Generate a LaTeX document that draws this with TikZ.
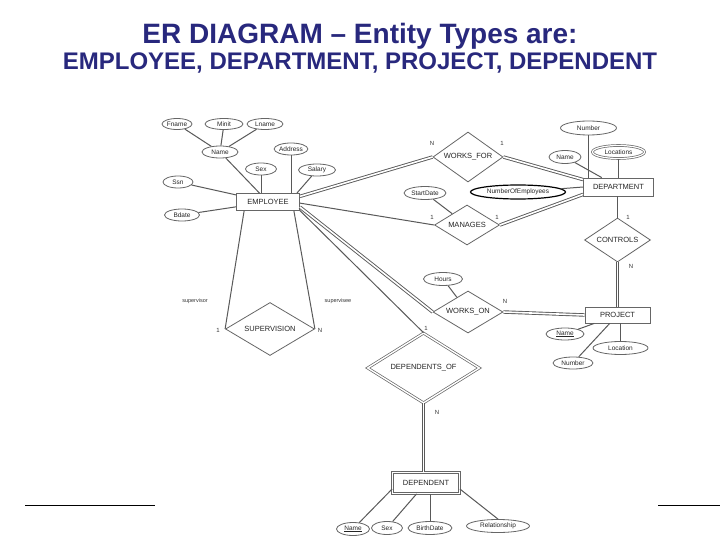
\documentclass[tikz,border=0pt]{standalone}
\usepackage{fontspec}
\setmainfont{Liberation Sans}
\usetikzlibrary{shapes.geometric}
\definecolor{titleblue}{RGB}{40,40,125}

\begin{document}
\begin{tikzpicture}[
        % 全局設定:1 單位 = 1pt,y 軸向下
        x=1pt, y=-1pt,
        % 實體:矩形
        entity/.style={
            rectangle,
            draw=black!60,
            line width=0.8pt,
            fill=white,
            inner sep=1pt,
            text=black!85,
            font=\fontsize{7.5}{8}\selectfont
        },
        % 弱實體:雙框
        weakentity/.style={entity, line width=0.7pt, double, double distance=1.4pt},
        % 關係:菱形
        relation/.style={
            diamond,
            aspect=1.7,
            draw=black!60,
            line width=0.8pt,
            fill=white,
            inner sep=0pt,
            text=black!85,
            font=\fontsize{7.5}{8}\selectfont
        },
        % 識別關係:雙菱形
        identrel/.style={relation, line width=0.7pt, double, double distance=1.4pt},
        % 屬性:橢圓
        attr/.style={
            ellipse,
            draw=black!60,
            line width=0.8pt,
            fill=white,
            inner sep=0pt,
            minimum height=12pt,
            text=black!85,
            font=\fontsize{6.5}{7}\selectfont
        },
        multiattr/.style={attr, line width=0.7pt, double, double distance=1.2pt}, % 多值屬性
        derivedattr/.style={attr, draw=black, line width=1.2pt},                 % 衍生屬性
        % 連線樣式
        link/.style={draw=black!65, line width=1pt},
        totallink/.style={link, line width=0.9pt, double, double distance=1.6pt},
        % 文字標籤樣式
        card_text/.style={font=\fontsize{6}{7}\selectfont, text=black!80},
        role_text/.style={font=\fontsize{5.5}{6}\selectfont, text=black!80},
        title_text/.style={anchor=base, text=titleblue}
    ]

    \useasboundingbox (0,0) rectangle (720,540);
    \fill[white] (0,0) rectangle (720,540);

    % --- 標題 ---
    \node[title_text, font=\fontsize{28}{30}\selectfont\bfseries] (title1) at (360,44) {ER DIAGRAM -- Entity Types are:};
    \node[title_text, font=\fontsize{24}{26}\selectfont\bfseries] (title2) at (360,70) {EMPLOYEE, DEPARTMENT, PROJECT, DEPENDENT};

    % --- EMPLOYEE 與其屬性 ---
    \node[entity, minimum width=63pt, minimum height=17pt] (emp) at (268,202) {EMPLOYEE};
    \node[attr, minimum width=30pt, minimum height=11pt] (fname) at (177,124) {Fname};
    \node[attr, minimum width=38pt, minimum height=11pt] (minit) at (224,124) {Minit};
    \node[attr, minimum width=36pt, minimum height=11pt] (lname) at (265,124) {Lname};
    \node[attr, minimum width=36pt] (ename) at (220,152) {Name};
    \node[attr, minimum width=31pt] (esex) at (261,169) {Sex};
    \node[attr, minimum width=33pt] (eaddr) at (291,149) {Address};
    \node[attr, minimum width=37pt] (esal) at (317,170) {Salary};
    \node[attr, minimum width=30pt] (essn) at (178,182) {Ssn};
    \node[attr, minimum width=35pt] (ebdate) at (182,215) {Bdate};

    % --- DEPARTMENT 與其屬性 ---
    \node[entity, minimum width=70pt, minimum height=18pt] (dept) at (618.5,187) {DEPARTMENT};
    \node[attr, minimum width=56pt, minimum height=14pt] (dnum) at (588.5,128) {Number};
    \node[attr, minimum width=32pt, minimum height=13pt] (dname) at (565,157) {Name};
    \node[multiattr, minimum width=52pt, minimum height=13pt] (dloc) at (618.5,152) {Locations};
    \node[derivedattr, minimum width=95pt, minimum height=14pt] (numemp) at (518,192) {NumberOfEmployees};

    % --- PROJECT 與其屬性 ---
    \node[entity, minimum width=65pt, minimum height=16pt] (proj) at (617.5,315) {PROJECT};
    \node[attr, minimum width=38pt] (pname) at (565,334) {\underline{Name}};
    \node[attr, minimum width=55pt, minimum height=13pt] (ploc) at (620.5,348) {Location};
    \node[attr, minimum width=40pt] (pnum) at (573,363) {Number};

    % --- DEPENDENT 與其屬性 ---
    \node[weakentity, minimum width=67pt, minimum height=21pt] (dep) at (426,483) {DEPENDENT};
    \node[attr, minimum width=33pt, minimum height=13pt] (depname) at (353,529) {\underline{Name}};
    \node[attr, minimum width=31pt, minimum height=13pt] (depsex) at (387,528) {Sex};
    \node[attr, minimum width=44pt, minimum height=13pt] (depbirth) at (430,528) {BirthDate};
    \node[attr, minimum width=63pt, minimum height=13pt] (deprel) at (498,526) {Relationship};

    % --- 關係 ---
    \node[relation, minimum width=70pt, minimum height=50pt] (worksfor) at (468,157) {WORKS\_FOR};
    \node[relation, minimum width=65pt, minimum height=40pt] (manages) at (467,225) {MANAGES};
    \node[relation, minimum width=66pt, minimum height=44pt] (controls) at (617.5,240) {CONTROLS};
    \node[relation, minimum width=70pt, minimum height=42pt] (workson) at (468,312) {WORKS\_ON};
    \node[relation, minimum width=89pt, minimum height=53pt] (superv) at (270,329) {SUPERVISION};
    \node[identrel, minimum width=112pt, minimum height=70pt] (depof) at (423.5,368) {DEPENDENTS\_OF};
    \node[attr, minimum width=42pt, minimum height=13pt] (startdate) at (425,193) {StartDate};
    \node[attr, minimum width=39pt, minimum height=13pt] (hours) at (443,279) {Hours};

    % --- 屬性連線 ---
    \draw[link] (fname) -- (ename);
    \draw[link] (minit) -- (ename);
    \draw[link] (lname) -- (ename);
    \draw[link] (ename) -- (emp);
    \draw[link] (esex) -- (esex |- emp.north);
    \draw[link] (eaddr) -- (eaddr |- emp.north);
    \draw[link] (esal) -- ([xshift=-3pt]emp.north east);
    \draw[link] (essn) -- (emp);
    \draw[link] (ebdate) -- (emp);
    \draw[link] (dnum.south) -- (dnum.south |- dept.north);
    \draw[link] (dname) -- (dept);
    \draw[link] (dloc.south) -- (dloc.south |- dept.north);
    \draw[link] (numemp) -- (dept.west);
    \draw[link] (pname) -- (proj);
    \draw[link] (ploc.north) -- (ploc.north |- proj.south);
    \draw[link] (pnum) -- (proj);
    \draw[link] (depname) -- (dep.190);
    \draw[link] (depsex) -- (dep);
    \draw[link] (depbirth) -- (depbirth |- dep.south);
    \draw[link] (deprel.north) -- (dep.-10);
    \draw[link] (startdate) -- (manages);
    \draw[link] (hours) -- (workson);

    % --- 關係連線 ---
    \draw[totallink] (emp.10) -- (worksfor.west);
    \draw[totallink] (worksfor.east) -- ([yshift=-2pt]dept.north west);
    \draw[link] (emp.-2) -- (manages.west);
    \draw[totallink] (manages.east) -- ([yshift=2pt]dept.south west);
    \draw[link] (controls.north |- dept.south) -- (controls.north);
    \draw[totallink] (controls.south) -- (controls.south |- proj.north);
    \draw[totallink] (emp.-9) -- (workson.west);
    \draw[totallink] (workson.east) -- (proj.west);
    \draw[link] (emp.-15) -- (depof.north);
    \draw[totallink] (depof.south) -- (depof.south |- dep.north);
    \draw[link] ([xshift=8pt]emp.south west) -- (superv.west);
    \draw[link] ([xshift=-6pt]emp.south east) -- (superv.east);

    % --- 基數與角色標籤 ---
    \node[card_text] (wfn) at (432,143) {N};
    \node[card_text] (wf1) at (502,143) {1};
    \node[card_text] (mgl) at (432,217) {1};
    \node[card_text] (mgr) at (497,217) {1};
    \node[card_text] (ct1) at (628,217) {1};
    \node[card_text] (ctn) at (631,266) {N};
    \node[card_text] (won) at (505,301) {N};
    \node[card_text] (do1) at (426,328) {1};
    \node[card_text] (don) at (437,412) {N};
    \node[card_text] (sv1) at (218,330) {1};
    \node[card_text] (svn) at (320,330) {N};
    \node[role_text] (rsup) at (195,301) {supervisor};
    \node[role_text] (rsee) at (338,301) {supervisee};

    % --- 底部裝飾線 ---
    \draw[black, line width=0.8pt] (25,505) -- (155,505);
    \draw[black, line width=0.8pt] (658,505) -- (720,505);
\end{tikzpicture}
\end{document}
